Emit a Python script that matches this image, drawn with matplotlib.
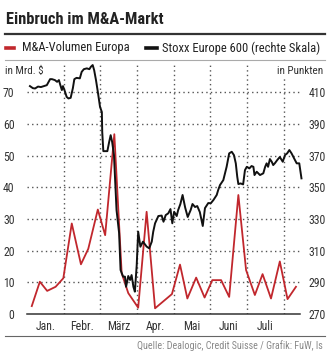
import matplotlib
matplotlib.use("Agg")
import matplotlib.pyplot as plt
from matplotlib.lines import Line2D

plt.rcParams['font.family'] = ['Roboto Condensed', 'Liberation Sans Narrow', 'Roboto', 'DejaVu Sans']

# M&A volume Europe, weekly (bn $), x in months since 1 Jan
ma_x = [0.13, 0.35, 0.55, 0.78, 0.99, 1.22, 1.47, 1.67, 1.93, 2.13, 2.38, 2.58,
        2.76, 3.03, 3.26, 3.49, 3.95, 4.17, 4.37, 4.61, 4.84, 5.05, 5.29, 5.51,
        5.76, 5.97, 6.21, 6.42, 6.65, 6.89, 7.10, 7.33]
ma_vol = [2.5, 10.2, 7.3, 8.6, 11.3, 28.6, 15.7, 20.6, 33.0, 24.9, 56.8, 12.9,
          6.6, 2.0, 32.3, 1.8, 6.3, 15.6, 4.9, 11.5, 5.2, 10.7, 10.7, 5.4,
          37.6, 13.9, 6.0, 12.6, 4.9, 16.6, 4.7, 8.6]

# Stoxx Europe 600 (points)
stoxx_x = [0.08, 0.16, 0.22, 0.30, 0.38, 0.46, 0.54, 0.63, 0.68, 0.76, 0.82, 0.87,
           0.90, 0.95, 0.98, 1.04, 1.08, 1.13, 1.19, 1.25, 1.29, 1.35, 1.44, 1.49,
           1.55, 1.63, 1.70, 1.74, 1.79, 1.83, 1.88, 1.93, 1.99, 2.04, 2.05, 2.08,
           2.13, 2.19, 2.24, 2.28, 2.32, 2.37, 2.44, 2.51, 2.55, 2.62, 2.67, 2.70,
           2.76, 2.81, 2.85, 2.90, 2.94, 2.99, 3.03, 3.09, 3.16, 3.26, 3.33, 3.40,
           3.44, 3.49, 3.58, 3.67, 3.72, 3.78, 3.85, 3.91, 3.96, 4.01, 4.08, 4.12,
           4.18, 4.24, 4.31, 4.38, 4.46, 4.51, 4.58, 4.64, 4.71, 4.79, 4.85, 4.94,
           5.01, 5.08, 5.17, 5.21, 5.26, 5.35, 5.44, 5.51, 5.58, 5.64, 5.69, 5.73,
           5.76, 5.82, 5.89, 5.94, 5.99, 6.06, 6.12, 6.17, 6.20, 6.26, 6.35, 6.44,
           6.49, 6.53, 6.57, 6.62, 6.67, 6.71, 6.76, 6.82, 6.89, 6.97, 7.03, 7.09,
           7.15, 7.21, 7.28, 7.35, 7.42, 7.48]
stoxx = [414.0, 412.7, 412.5, 413.7, 413.4, 414.0, 414.6, 418.4, 418.4, 417.8, 416.7, 417.8,
         415.3, 411.5, 414.0, 410.2, 407.2, 406.2, 406.6, 412.7, 418.4, 419.2, 418.9, 423.0,
         424.7, 425.2, 424.7, 426.2, 427.3, 424.1, 417.8, 410.4, 400.9, 397.6, 385.1, 372.9,
         372.9, 372.9, 378.8, 383.0, 378.8, 370.4, 335.7, 321.2, 297.8, 293.6, 293.6, 287.2,
         294.0, 291.5, 294.6, 287.2, 284.1, 300.9, 322.0, 312.5, 315.7, 312.6, 311.5, 315.7,
         322.0, 327.3, 331.9, 332.2, 328.3, 332.5, 333.6, 336.3, 327.3, 334.6, 331.9, 335.7,
         339.5, 345.2, 337.3, 331.3, 335.7, 339.5, 337.6, 338.2, 334.4, 325.6, 336.9, 340.1,
         340.0, 342.0, 345.2, 348.3, 351.5, 354.6, 363.0, 371.5, 372.5, 370.4, 365.2, 356.7,
         352.1, 352.5, 351.9, 360.9, 363.0, 362.0, 363.5, 363.0, 357.8, 359.9, 357.8, 358.9,
         363.0, 365.2, 363.0, 367.9, 366.2, 364.1, 365.4, 367.3, 369.2, 366.2, 370.4, 371.5,
         373.6, 371.5, 368.3, 365.2, 365.2, 355.7]

months = ['Jan.', 'Febr.', 'März', 'Apr.', 'Mai', 'Juni', 'Juli']
left_ticks = [0, 10, 20, 30, 40, 50, 60, 70]
right_ticks = [270, 290, 310, 330, 350, 370, 390, 410]

W, H = 331, 353
red = '#c1272d'
fig = plt.figure(figsize=(W / 100, H / 100), dpi=100)


def fx(px):
    return px / W


def fy(py):
    return 1 - py / H


ax = fig.add_axes([fx(27), fy(314), (300 - 27) / W, (314 - 63) / H])
ax.set_xlim(0, 7.44)
ax.set_ylim(0, 79.3)
ax2 = ax.twinx()
ax2.set_ylim(270, 270 + 2 * 79.3)

# dotted grid (the last month line stops below "in Punkten")
for v in left_ticks[1:]:
    ax.axhline(v, color='#555', lw=1.0, ls=(0, (1, 2.3)), zorder=0)
for m in range(1, 8):
    top = 1 if m < 7 else (314 - 78) / 251
    ax.axvline(m, ymax=top, color='#555', lw=1.0, ls=(0, (1, 2.3)), zorder=0)

ax.plot(ma_x, ma_vol, color=red, lw=1.3, zorder=3, clip_on=False)
ax2.plot(stoxx_x, stoxx, color='#111', lw=1.4, zorder=3, clip_on=False)

for a in (ax, ax2):
    for s in a.spines.values():
        s.set_visible(False)
ax.spines['bottom'].set_visible(True)
ax.spines['bottom'].set_color('#333')
ax.spines['bottom'].set_linewidth(1.1)

ax.set_yticks(left_ticks)
ax.tick_params(axis='y', length=0, pad=9, labelsize=8.5, labelcolor='#333')
ax2.set_yticks(right_ticks)
ax2.tick_params(axis='y', length=0, pad=6, labelsize=8.5, labelcolor='#333')
ax.set_xticks([i + 0.5 for i in range(7)])
ax.set_xticklabels(months)
ax.tick_params(axis='x', length=0, pad=4, labelsize=8.5, labelcolor='#333')

# header
title = fig.text(fx(6), fy(20), 'Einbruch im M&A-Markt', fontsize=12.5, weight='bold',
                 va='center', ha='left', color='#222')
fig.add_artist(Line2D([fx(5), fx(325)], [fy(33.5)] * 2, lw=1.6, color='#333'))
fig.add_artist(Line2D([fx(6), fx(14)], [fy(48)] * 2, lw=2.6, color=red))
leg1 = fig.text(fx(22), fy(48), 'M&A-Volumen Europa', fontsize=9, va='center',
                ha='left', color='#222')
fig.add_artist(Line2D([fx(146), fx(157)], [fy(48)] * 2, lw=2.6, color='#111'))
leg2 = fig.text(fx(162), fy(48), 'Stoxx Europe 600 (rechte Skala)', fontsize=9,
                va='center', ha='left', color='#222')
fig.add_artist(Line2D([fx(5), fx(325)], [fy(60)] * 2, lw=0.8, color='#aaa'))

fig.text(fx(5), fy(71), 'in Mrd. $', fontsize=8, va='center', ha='left', color='#333')
fig.text(fx(323), fy(71), 'in Punkten', fontsize=8, va='center', ha='right', color='#333')

# footer
fig.add_artist(Line2D([fx(5), fx(325)], [fy(336)] * 2, lw=0.8, color='#666'))
src = fig.text(fx(323), fy(345.5), 'Quelle: Dealogic, Credit Suisse / Grafik: FuW, ls',
               fontsize=7.2, va='center', ha='right', color='#888')

# squeeze header texts to the widths they have in the original
fig.canvas.draw()
r = fig.canvas.get_renderer()
for t, w in ((title, 158), (leg1, 110), (leg2, 160), (src, 187)):
    bw = t.get_window_extent(r).width
    if bw > w:
        t.set_fontsize(t.get_fontsize() * w / bw)

fig.savefig('out.png', dpi=100, facecolor='white')
